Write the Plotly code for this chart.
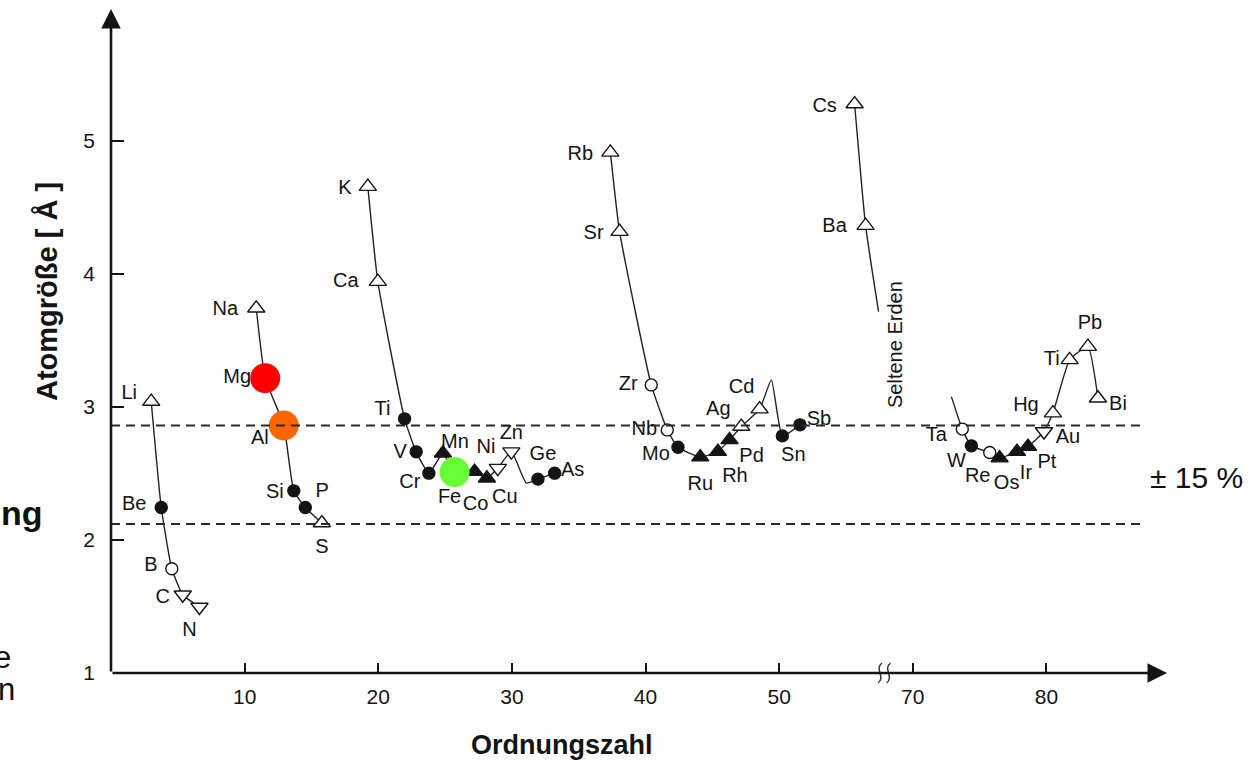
import plotly.graph_objects as go

# ---------------- data ----------------
# x = Ordnungszahl (as plotted), y = Atomgröße in Å
P2_LABEL = ["Li", "Be", "B", "C", "N"]
P2_Z = [3.01, 3.76, 4.55, 5.37, 6.62]
P2_R = [3.04, 2.244, 1.783, 1.588, 1.496]
P2_KIND = ["tri_open", "circ_fill", "circ_open", "tri_down_open", "tri_down_open"]

P3_LABEL = ["Na", "Mg", "Al", "Si", "P", "S"]
P3_Z = [10.87, 11.54, 12.93, 13.68, 14.54, 15.78]
P3_R = [3.741, 3.216, 2.860, 2.369, 2.244, 2.127]
P3_KIND = ["tri_open", "circ_fill", "circ_fill", "circ_fill", "circ_fill", "tri_open"]

P4_LABEL = ["K", "Ca", "Ti", "V", "Cr", "Mn", "Fe", "Co", "Ni", "Cu", "Zn", "", "Ge", "As"]
P4_Z = [19.22, 19.97, 21.97, 22.84, 23.79, 24.84, 25.71, 27.21, 28.13, 28.95, 29.96, 31.08, 31.95, 33.20]
P4_R = [4.655, 3.941, 2.910, 2.662, 2.502, 2.652, 2.510, 2.514, 2.464, 2.540, 2.664, 2.427, 2.457, 2.502]
P4_KIND = ["tri_open", "tri_open", "circ_fill", "circ_fill", "circ_fill", "tri_fill", "circ_fill",
           "tri_fill", "tri_fill", "tri_down_open", "tri_down_open", "none", "circ_fill", "circ_fill"]

P5_LABEL = ["Rb", "Sr", "Zr", "Nb", "Mo", "Ru", "Rh", "Pd", "Ag", "Cd", "", "Sn", "Sb"]
P5_Z = [37.37, 38.06, 40.43, 41.63, 42.43, 44.10, 45.42, 46.29, 47.17, 48.54, 49.42, 50.24, 51.56]
P5_R = [4.913, 4.317, 3.165, 2.827, 2.697, 2.622, 2.664, 2.752, 2.852, 2.983, 3.203, 2.782, 2.865]
P5_KIND = ["tri_open", "tri_open", "circ_open", "circ_open", "circ_fill", "tri_fill", "tri_fill",
           "tri_fill", "tri_open", "tri_open", "none", "circ_fill", "circ_fill"]

P6A_LABEL = ["Cs", "Ba", ""]
P6A_Z = [55.65, 56.47, 57.44]
P6A_R = [5.276, 4.362, 3.716]
P6A_KIND = ["tri_open", "tri_open", "none"]

P6B_LABEL = ["", "Ta", "W", "Re", "Os", "Ir", "Pt", "Au", "Hg", "Ti", "Pb", "Bi"]
P6B_Z = [72.89, 73.71, 74.39, 75.76, 76.50, 77.80, 78.62, 79.82, 80.49, 81.74, 83.11, 83.86]
P6B_R = [3.077, 2.833, 2.707, 2.657, 2.615, 2.664, 2.702, 2.815, 2.953, 3.353, 3.453, 3.065]
P6B_KIND = ["none", "circ_open", "circ_fill", "circ_open", "tri_fill", "tri_fill", "tri_fill",
            "tri_down_open", "tri_open", "tri_open", "tri_open", "tri_open"]

HIGHLIGHT_LABELS = ["Mg", "Al", "Fe"]
BAND_LEVELS = [2.86, 2.12]          # ±15 % around Fe
X_TICK_Z = [10, 20, 30, 40, 50, 70, 80]
X_TICK_LABELS = ["10", "20", "30", "40", "50", "70", "80"]
Y_TICKS = [1, 2, 3, 4, 5]

# ---------------- style / layout ----------------
W, H = 1251, 760
ML, MR, MT, MB = 111, 71, 21, 87
XR = [0, 80]
YR = [1, 5.9]
PXX = (W - ML - MR) / (XR[1] - XR[0])
PXY = (H - MT - MB) / (YR[1] - YR[0])
FONT = "Liberation Sans, Arial, Helvetica, sans-serif"
INK = "#141414"
HL_COLORS = {"Mg": "#ff0000", "Al": "#ff6600", "Fe": "#66ff33"}

KIND_STYLE = {
    "tri_open": ("triangle-up", "white", 15),
    "tri_fill": ("triangle-up", INK, 15),
    "tri_down_open": ("triangle-down", "white", 15),
    "circ_open": ("circle", "white", 12),
    "circ_fill": ("circle", INK, 12),
}

# label offsets in pixels (dx right, dy down), per period
LABEL_OFF = {
    "P2": [(-22, -8), (-27, -2), (-21, -3), (-20, 3), (-10, 24)],
    "P3": [(-31, 2), (-28, 0), (-24, 13), (-19, 2), (17, -15), (0, 25)],
    "P4": [(-23, 2), (-32, 0), (-22, -9), (-16, 1), (-19, 10), (12, -10), (-5, 26), (1, 33),
           (-1, -30), (7, 30), (0, -18), (0, 0), (5, -24), (18, -2)],
    "P5": [(-30, 3), (-26, 2), (-23, 0), (-23, 0), (-22, 8), (0, 28), (17, 25), (22, 17),
           (-23, -17), (-18, -21), (0, 0), (11, 20), (19, -5)],
    "P6A": [(-30, 3), (-31, 1), (0, 0)],
    "P6B": [(0, 0), (-26, 7), (-15, 16), (-12, 24), (7, 26), (9, 22), (19, 16), (24, 7),
            (-27, -7), (-18, 0), (2, -23), (20, 7)],
}


def axpos(z):
    """Axis position with the broken x axis (rare earths cut out)."""
    return z - 10 if z > 60 else z


PERIODS = [
    ("P2", P2_LABEL, P2_Z, P2_R, P2_KIND),
    ("P3", P3_LABEL, P3_Z, P3_R, P3_KIND),
    ("P4", P4_LABEL, P4_Z, P4_R, P4_KIND),
    ("P5", P5_LABEL, P5_Z, P5_R, P5_KIND),
    ("P6A", P6A_LABEL, P6A_Z, P6A_R, P6A_KIND),
    ("P6B", P6B_LABEL, P6B_Z, P6B_R, P6B_KIND),
]

fig = go.Figure()

# connecting curves
for key, lab, zs, rs, kinds in PERIODS:
    fig.add_trace(go.Scatter(
        x=[axpos(z) for z in zs], y=rs, mode="lines",
        line=dict(color="#222222", width=1.4, shape="spline", smoothing=0.45),
        hoverinfo="skip", showlegend=False))

# markers
mx, my, msym, mcol, msz = [], [], [], [], []
for key, lab, zs, rs, kinds in PERIODS:
    for z, r, k in zip(zs, rs, kinds):
        if k == "none":
            continue
        s, c, sz = KIND_STYLE[k]
        mx.append(axpos(z)); my.append(r); msym.append(s); mcol.append(c); msz.append(sz)
fig.add_trace(go.Scatter(
    x=mx, y=my, mode="markers",
    marker=dict(symbol=msym, color=mcol, size=msz, opacity=1,
                line=dict(color=INK, width=1.4)),
    hoverinfo="skip", showlegend=False))

# element labels
tx, ty, tt = [], [], []
for key, lab, zs, rs, kinds in PERIODS:
    for (dx, dy), l, z, r in zip(LABEL_OFF[key], lab, zs, rs):
        if not l:
            continue
        tx.append(axpos(z) + dx / PXX); ty.append(r - dy / PXY); tt.append(l)
fig.add_trace(go.Scatter(
    x=tx, y=ty, text=tt, mode="text", textposition="middle center",
    textfont=dict(family=FONT, size=20, color=INK),
    hoverinfo="skip", showlegend=False, cliponaxis=False))

# highlighted elements
hx, hy, hc = [], [], []
for key, lab, zs, rs, kinds in PERIODS:
    for l, z, r in zip(lab, zs, rs):
        if l in HIGHLIGHT_LABELS and key in ("P3", "P4"):
            hx.append(axpos(z)); hy.append(r); hc.append(HL_COLORS[l])
fig.add_trace(go.Scatter(
    x=hx, y=hy, mode="markers",
    marker=dict(symbol="circle", size=30, color=hc, opacity=1, line=dict(width=0)),
    hoverinfo="skip", showlegend=False))

shapes = []
for lvl in BAND_LEVELS:
    shapes.append(dict(type="line", xref="x", yref="y", x0=0, x1=77.1, y0=lvl, y1=lvl,
                       line=dict(color="#2a2a2a", width=2, dash="9px,6px")))

PH = H - MT - MB
PW = W - ML - MR

# axis break squiggles
for cx_px in (880, 888.5):
    cx = (cx_px - ML) / PXX

    def px(d, cx=cx):
        return cx + d / PXX

    def py(d):
        return -d / PH
    path = (f"M {px(2)},{py(-10)} C {px(-6)},{py(-4)} {px(6)},{py(4)} {px(-2)},{py(10)}")
    shapes.append(dict(type="path", xref="x", yref="paper", path=path,
                       line=dict(color="#333333", width=1.5)))

annotations = [
    # y axis with arrow
    dict(xref="paper", yref="paper", x=0, y=(H - MB - 9) / PH, ax=0, ay=H - MB - 9,
         text="", showarrow=True, arrowhead=2, arrowsize=1.5, arrowwidth=2.6, arrowcolor=INK),
    # x axis with arrow
    dict(xref="paper", yref="paper", x=(1167 - ML) / PW, y=0, ax=-(1167 - ML), ay=0,
         text="", showarrow=True, arrowhead=2, arrowsize=1.5, arrowwidth=2.6, arrowcolor=INK),
    dict(xref="paper", yref="paper", x=(562 - ML) / PW, y=(H - MB - 745) / PH,
         text="<b>Ordnungszahl</b>", showarrow=False, xanchor="center", yanchor="middle",
         font=dict(family=FONT, size=27, color=INK)),
    dict(xref="paper", yref="paper", x=(47 - ML) / PW, y=(H - MB - 292) / PH,
         text="<b>Atomgröße [ Å ]</b>", textangle=-90, showarrow=False,
         xanchor="center", yanchor="middle", font=dict(family=FONT, size=29, color=INK)),
    dict(xref="x", yref="y", x=(895 - ML) / PXX, y=YR[0] + (H - MB - 345) / PXY,
         text="Seltene Erden", textangle=-90, showarrow=False,
         font=dict(family=FONT, size=20, color=INK)),
    dict(xref="paper", yref="paper", x=(1148 - ML) / PW, y=(H - MB - 477) / PH,
         text="± 15 %", showarrow=False, xanchor="left", yanchor="middle",
         font=dict(family=FONT, size=30, color="#111111")),
    dict(xref="paper", yref="paper", x=(45 - ML) / PW, y=(H - MB - 513) / PH,
         text="<b>ng</b>", showarrow=False, xanchor="right", yanchor="middle",
         font=dict(family=FONT, size=34, color="#111111")),
    dict(xref="paper", yref="paper", x=(13 - ML) / PW, y=(H - MB - 657) / PH,
         text="e", showarrow=False, xanchor="right", yanchor="middle",
         font=dict(family=FONT, size=31, color="#111111")),
    dict(xref="paper", yref="paper", x=(17 - ML) / PW, y=(H - MB - 689) / PH,
         text="n", showarrow=False, xanchor="right", yanchor="middle",
         font=dict(family=FONT, size=31, color="#111111")),
]

fig.update_layout(
    width=W, height=H, margin=dict(l=ML, r=MR, t=MT, b=MB),
    plot_bgcolor="white", paper_bgcolor="white",
    shapes=shapes, annotations=annotations, showlegend=False,
    xaxis=dict(range=XR, showgrid=False, zeroline=False, showline=False,
               tickvals=[axpos(z) for z in X_TICK_Z], ticktext=X_TICK_LABELS,
               ticks="inside", ticklen=10, tickwidth=1.6, tickcolor=INK,
               tickfont=dict(family=FONT, size=21, color=INK), ticklabelstandoff=9),
    yaxis=dict(range=YR, showgrid=False, zeroline=False, showline=False,
               tickvals=Y_TICKS, ticks="inside", ticklen=13, tickwidth=1.6, tickcolor=INK,
               tickfont=dict(family=FONT, size=21, color=INK), ticklabelstandoff=15),
)

fig.write_html("out.html")
